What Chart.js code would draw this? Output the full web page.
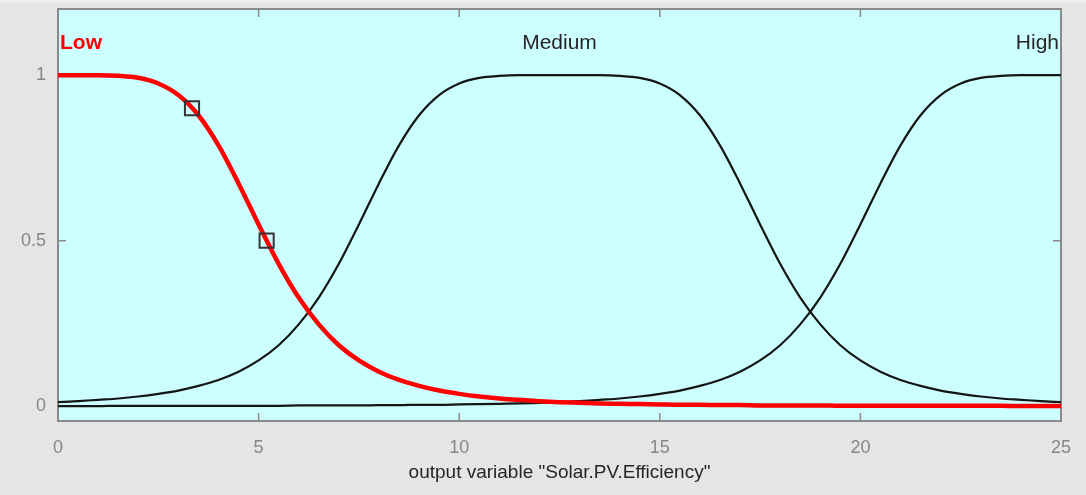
<!DOCTYPE html>
<html lang="en">
<head>
  <meta charset="UTF-8">
  <title>Solar.PV.Efficiency membership functions</title>
  <script src="https://cdn.jsdelivr.net/npm/chart.js"></script>
  <style>
    body {
      margin: 0;
      background: #e5e5e5;
      font-family: 'Liberation Sans', Arial, sans-serif;
    }
    .wrap {
      width: 1086px;
      height: 495px;
      border-top: 3px solid #efefef;
      box-sizing: border-box;
    }
    canvas { display: block; }
  </style>
</head>
<body>
<div class="wrap">
  <canvas id="chart" width="1086" height="492"></canvas>
</div>

<script>
// x positions of the sampled points
const xs = [0, 0.5, 1, 1.5, 2, 2.5, 3, 3.5, 4, 4.5, 5, 5.5, 6, 6.5, 7, 7.5, 8, 8.5, 9, 9.5,
  10, 10.5, 11, 11.5, 12, 12.5, 13, 13.5, 14, 14.5, 15, 15.5, 16, 16.5, 17, 17.5, 18, 18.5, 19, 19.5,
  20, 20.5, 21, 21.5, 22, 22.5, 23, 23.5, 24, 24.5, 25];

const low = [1, 1, 1, 0.998, 0.992, 0.975, 0.940, 0.879, 0.788, 0.673, 0.549, 0.430, 0.328, 0.247, 0.184, 0.138, 0.104, 0.079, 0.061, 0.047,
  0.037, 0.029, 0.023, 0.019, 0.015, 0.012, 0.010, 0.008, 0.007, 0.006, 0.005, 0.004, 0.004, 0.003, 0.003, 0.002, 0.002, 0.002, 0.002, 0.001,
  0.001, 0.001, 0.001, 0.001, 0.001, 0.001, 0.001, 0.001, 0, 0, 0];

const medium = [0.012, 0.015, 0.019, 0.023, 0.029, 0.037, 0.047, 0.061, 0.079, 0.104, 0.138, 0.184, 0.247, 0.328, 0.430, 0.549, 0.673, 0.788, 0.879, 0.940,
  0.975, 0.992, 0.998, 1, 1, 1, 1, 1, 0.998, 0.992, 0.975, 0.940, 0.879, 0.788, 0.673, 0.549, 0.430, 0.328, 0.247, 0.184,
  0.138, 0.104, 0.079, 0.061, 0.047, 0.037, 0.029, 0.023, 0.019, 0.015, 0.012];

const high = [0, 0, 0, 0.001, 0.001, 0.001, 0.001, 0.001, 0.001, 0.001, 0.001, 0.001, 0.002, 0.002, 0.002, 0.002, 0.003, 0.003, 0.004, 0.004,
  0.005, 0.006, 0.007, 0.008, 0.010, 0.012, 0.015, 0.019, 0.023, 0.029, 0.037, 0.047, 0.061, 0.079, 0.104, 0.138, 0.184, 0.247, 0.328, 0.430,
  0.549, 0.673, 0.788, 0.879, 0.940, 0.975, 0.992, 0.998, 1, 1, 1];

// square markers on the selected MF
const markX = [3.34, 5.2];
const markY = [0.9, 0.5];

const xTicks = [0, 5, 10, 15, 20, 25];
const yTicks = [0, 0.5, 1];

const mfNames = ["Low", "Medium", "High"];
const nameX = [0, 12.5, 25];
const nameY = 1.1;

const FONT = "'Liberation Sans', Arial, sans-serif";

function pts(ys) {
  return xs.map((x, i) => ({ x: x, y: ys[i] }));
}

// cyan plot background + box with inward ticks
const axesBox = {
  id: 'axesBox',
  beforeDatasetsDraw(chart) {
    const { ctx, chartArea: a, scales } = chart;
    ctx.save();
    ctx.fillStyle = '#ccffff';
    ctx.fillRect(a.left, a.top, a.right - a.left, a.bottom - a.top);
    ctx.strokeStyle = '#8a8a8a';
    ctx.lineWidth = 1.5;
    ctx.beginPath();
    xTicks.forEach(v => {
      const px = scales.x.getPixelForValue(v);
      ctx.moveTo(px, a.bottom); ctx.lineTo(px, a.bottom - 8);
      ctx.moveTo(px, a.top); ctx.lineTo(px, a.top + 8);
    });
    yTicks.forEach(v => {
      const py = scales.y.getPixelForValue(v);
      ctx.moveTo(a.left, py); ctx.lineTo(a.left + 8, py);
      ctx.moveTo(a.right, py); ctx.lineTo(a.right - 8, py);
    });
    ctx.stroke();
    ctx.lineWidth = 2;
    ctx.strokeRect(a.left, a.top, a.right - a.left, a.bottom - a.top);
    ctx.restore();
  },
  afterDatasetsDraw(chart) {
    const { ctx, scales } = chart;
    ctx.save();
    ctx.textBaseline = 'middle';
    const y = scales.y.getPixelForValue(nameY) + 1;
    ctx.font = 'bold 21px ' + FONT;
    ctx.fillStyle = '#ff0000';
    ctx.textAlign = 'left';
    ctx.fillText(mfNames[0], scales.x.getPixelForValue(nameX[0]) + 2, y);
    ctx.font = '21px ' + FONT;
    ctx.fillStyle = '#262626';
    ctx.textAlign = 'center';
    ctx.fillText(mfNames[1], scales.x.getPixelForValue(nameX[1]), y);
    ctx.textAlign = 'right';
    ctx.fillText(mfNames[2], scales.x.getPixelForValue(nameX[2]) - 2, y);
    ctx.restore();
  }
};

new Chart(document.getElementById('chart'), {
  type: 'line',
  data: {
    datasets: [
      {
        type: 'scatter',
        data: markX.map((x, i) => ({ x: x, y: markY[i] })),
        pointStyle: 'rect',
        pointRadius: 10,
        borderColor: '#333333',
        borderWidth: 2,
        backgroundColor: 'rgba(0,0,0,0)',
        showLine: false
      },
      {
        data: pts(low),
        borderColor: '#ff0000',
        borderWidth: 4.5,
        pointRadius: 0,
        cubicInterpolationMode: 'monotone'
      },
      {
        data: pts(medium),
        borderColor: '#151515',
        borderWidth: 2.2,
        pointRadius: 0,
        cubicInterpolationMode: 'monotone'
      },
      {
        data: pts(high),
        borderColor: '#151515',
        borderWidth: 2.2,
        pointRadius: 0,
        cubicInterpolationMode: 'monotone'
      }
    ]
  },
  options: {
    responsive: false,
    animation: false,
    layout: { autoPadding: false, padding: { top: 6, right: 25, left: 0, bottom: 0 } },
    plugins: {
      legend: { display: false },
      tooltip: { enabled: false }
    },
    scales: {
      x: {
        type: 'linear',
        min: 0,
        max: 25,
        afterBuildTicks: s => { s.ticks = xTicks.map(v => ({ value: v })); },
        afterFit: s => { s.height = 74; s.paddingLeft = 0; s.paddingRight = 0; },
        grid: { display: false, drawTicks: false },
        border: { display: false },
        ticks: {
          color: '#868686',
          padding: 16,
          maxRotation: 0,
          font: { family: FONT, size: 18 }
        },
        title: {
          display: true,
          text: 'output variable "Solar.PV.Efficiency"',
          color: '#262626',
          font: { family: FONT, size: 19 },
          padding: { top: 4, bottom: 11 }
        }
      },
      y: {
        min: -0.045,
        max: 1.2,
        afterBuildTicks: s => { s.ticks = yTicks.map(v => ({ value: v })); },
        afterFit: s => { s.width = 58; s.paddingTop = 0; s.paddingBottom = 0; },
        grid: { display: false, drawTicks: false },
        border: { display: false },
        ticks: {
          color: '#868686',
          padding: 12,
          font: { family: FONT, size: 18 },
          callback: v => String(v)
        }
      }
    }
  },
  plugins: [axesBox]
});
</script>
</body>
</html>
